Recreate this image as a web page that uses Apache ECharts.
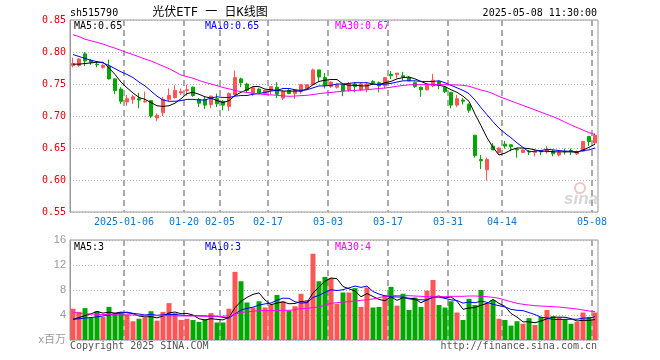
<!DOCTYPE html>
<html>
<head>
<meta charset="utf-8">
<script src="https://cdn.jsdelivr.net/npm/echarts@6/dist/echarts.min.js"></script>
<style>html,body{margin:0;padding:0;background:#fff}#c{width:660px;height:360px}</style>
</head>
<body>
<div id="c"></div>
<script>
const dates = ['2024-12-23','2024-12-24','2024-12-25','2024-12-26','2024-12-27','2024-12-30','2024-12-31',
'2025-01-02','2025-01-03','2025-01-06','2025-01-07','2025-01-08','2025-01-09','2025-01-10','2025-01-13','2025-01-14','2025-01-15','2025-01-16','2025-01-17','2025-01-20','2025-01-21','2025-01-22','2025-01-23','2025-01-24','2025-01-27',
'2025-02-05','2025-02-06','2025-02-07','2025-02-10','2025-02-11','2025-02-12','2025-02-13','2025-02-14','2025-02-17','2025-02-18','2025-02-19','2025-02-20','2025-02-21','2025-02-24','2025-02-25','2025-02-26','2025-02-27','2025-02-28',
'2025-03-03','2025-03-04','2025-03-05','2025-03-06','2025-03-07','2025-03-10','2025-03-11','2025-03-12','2025-03-13','2025-03-14','2025-03-17','2025-03-18','2025-03-19','2025-03-20','2025-03-21','2025-03-24','2025-03-25','2025-03-26','2025-03-27','2025-03-28','2025-03-31',
'2025-04-01','2025-04-02','2025-04-03','2025-04-07','2025-04-08','2025-04-09','2025-04-10','2025-04-11','2025-04-14','2025-04-15','2025-04-16','2025-04-17','2025-04-18','2025-04-21','2025-04-22','2025-04-23','2025-04-24','2025-04-25','2025-04-28','2025-04-29','2025-04-30',
'2025-05-06','2025-05-07','2025-05-08'];

const open = [0.779,0.779,0.797,0.787,0.781,0.776,0.778,0.758,0.742,0.722,
0.726,0.727,0.722,0.724,0.697,0.705,0.726,0.729,0.736,0.740,
0.745,0.726,0.726,0.718,0.727,0.723,0.715,0.733,0.758,0.750,
0.735,0.742,0.735,0.740,0.745,0.728,0.740,0.735,0.738,0.743,
0.749,0.772,0.760,0.746,0.745,0.749,0.740,0.750,0.741,0.742,
0.754,0.752,0.747,0.765,0.765,0.763,0.760,0.752,0.745,0.741,
0.747,0.754,0.745,0.737,0.717,0.725,0.718,0.670,0.632,0.616,
0.653,0.643,0.656,0.655,0.648,0.643,0.645,0.643,0.645,0.644,
0.645,0.639,0.645,0.646,0.641,0.645,0.668,0.658];

const close = [0.782,0.789,0.786,0.784,0.780,0.779,0.758,0.740,0.723,0.727,
0.730,0.725,0.723,0.700,0.701,0.726,0.732,0.740,0.738,0.741,
0.732,0.720,0.717,0.731,0.719,0.717,0.735,0.760,0.752,0.740,
0.744,0.736,0.740,0.746,0.734,0.738,0.735,0.741,0.749,0.749,
0.772,0.761,0.748,0.753,0.749,0.739,0.751,0.746,0.750,0.750,
0.752,0.747,0.760,0.763,0.767,0.761,0.755,0.746,0.741,0.748,
0.756,0.748,0.738,0.717,0.727,0.723,0.709,0.638,0.630,0.632,
0.647,0.650,0.653,0.652,0.647,0.647,0.644,0.645,0.644,0.647,
0.641,0.643,0.644,0.645,0.644,0.660,0.660,0.670];

const high = [0.791,0.790,0.800,0.789,0.786,0.781,0.788,0.759,0.745,0.733,
0.733,0.736,0.738,0.725,0.704,0.730,0.743,0.748,0.743,0.749,
0.746,0.728,0.730,0.732,0.735,0.725,0.737,0.771,0.760,0.752,
0.745,0.744,0.741,0.746,0.753,0.740,0.742,0.742,0.750,0.750,
0.774,0.772,0.767,0.754,0.751,0.749,0.753,0.753,0.752,0.752,
0.756,0.754,0.761,0.770,0.767,0.769,0.762,0.754,0.746,0.749,
0.766,0.755,0.747,0.737,0.733,0.728,0.720,0.670,0.639,0.635,
0.658,0.651,0.661,0.656,0.650,0.648,0.647,0.647,0.647,0.653,
0.648,0.645,0.649,0.649,0.646,0.660,0.669,0.673];

const low = [0.776,0.777,0.778,0.780,0.776,0.774,0.757,0.734,0.719,0.716,
0.719,0.712,0.721,0.697,0.692,0.700,0.723,0.727,0.733,0.732,
0.730,0.714,0.711,0.712,0.714,0.709,0.708,0.732,0.745,0.736,
0.731,0.734,0.733,0.734,0.728,0.725,0.734,0.727,0.735,0.741,
0.748,0.754,0.743,0.744,0.743,0.731,0.738,0.737,0.739,0.737,
0.749,0.737,0.743,0.758,0.759,0.756,0.755,0.744,0.730,0.740,
0.745,0.742,0.736,0.712,0.714,0.718,0.705,0.635,0.617,0.599,
0.647,0.641,0.649,0.645,0.635,0.642,0.639,0.637,0.639,0.641,
0.637,0.637,0.640,0.639,0.639,0.644,0.653,0.656];

const volume = [5.0,4.5,5.1,3.6,4.6,3.7,5.3,4.3,4.4,4.1,
3.0,3.4,3.6,4.6,3.1,4.5,5.9,4.3,3.2,3.4,
3.2,2.9,3.3,4.3,2.8,2.8,5.0,10.9,9.4,6.0,
5.2,6.2,5.2,5.7,7.2,6.2,4.7,5.4,7.4,6.4,
13.8,9.4,10.1,9.9,5.8,7.6,7.6,8.3,5.3,8.4,
5.2,5.3,7.2,8.5,5.5,7.4,4.8,6.8,5.3,7.9,
9.6,5.6,5.2,6.2,4.4,3.2,6.6,5.6,8.0,5.9,
6.4,3.4,3.2,2.3,3.0,2.6,3.5,2.4,3.7,4.8,
3.8,3.6,3.3,2.6,2.9,4.4,3.7,4.4];

const ma5 = [0.781,0.781,0.782,0.783,0.784,0.784,0.775,0.765,0.753,0.744,
0.736,0.729,0.726,0.721,0.716,0.715,0.716,0.720,0.727,0.735,
0.737,0.734,0.730,0.728,0.724,0.721,0.724,0.732,0.737,0.741,
0.746,0.746,0.742,0.741,0.740,0.739,0.739,0.739,0.739,0.742,
0.749,0.754,0.756,0.757,0.757,0.750,0.748,0.748,0.747,0.747,
0.750,0.749,0.752,0.754,0.758,0.760,0.761,0.758,0.754,0.750,
0.749,0.748,0.746,0.741,0.737,0.731,0.723,0.703,0.685,0.666,
0.651,0.639,0.642,0.647,0.650,0.650,0.649,0.647,0.645,0.645,
0.644,0.644,0.644,0.644,0.643,0.647,0.651,0.656];

const ma10 = [0.796,0.793,0.790,0.787,0.785,0.783,0.779,0.774,0.769,0.765,
0.760,0.753,0.747,0.739,0.731,0.725,0.723,0.723,0.724,0.726,
0.726,0.725,0.725,0.728,0.730,0.729,0.729,0.731,0.732,0.732,
0.734,0.735,0.737,0.739,0.740,0.743,0.743,0.741,0.740,0.741,
0.744,0.747,0.747,0.748,0.750,0.750,0.751,0.752,0.752,0.752,
0.750,0.749,0.750,0.751,0.753,0.755,0.755,0.755,0.754,0.754,
0.754,0.755,0.752,0.748,0.744,0.740,0.735,0.725,0.713,0.702,
0.691,0.681,0.673,0.666,0.658,0.651,0.644,0.645,0.646,0.648,
0.647,0.646,0.645,0.645,0.644,0.646,0.647,0.650];

const ma30 = [0.827,0.824,0.820,0.8175,0.815,0.8125,0.809,0.806,0.8025,0.799,
0.796,0.7925,0.789,0.786,0.782,0.778,0.774,0.769,0.764,0.7615,
0.759,0.7555,0.7525,0.750,0.7475,0.7445,0.7425,0.740,0.738,0.737,
0.7355,0.7345,0.7335,0.733,0.7323,0.7315,0.7307,0.7312,0.7318,0.7323,
0.7335,0.735,0.736,0.7368,0.7378,0.7388,0.7395,0.740,0.7405,0.741,
0.742,0.743,0.7437,0.745,0.7465,0.7477,0.7487,0.749,0.749,0.749,
0.749,0.749,0.749,0.7488,0.7485,0.748,0.7465,0.7435,0.7405,0.7385,
0.735,0.7305,0.727,0.7235,0.720,0.7165,0.713,0.7095,0.706,0.7025,
0.699,0.695,0.6905,0.686,0.682,0.678,0.674,0.671];

const vma5 = [3.3,3.6,3.9,4.2,4.56,4.30,4.46,4.30,4.46,4.36,
4.22,3.84,3.70,3.74,3.54,3.84,4.34,4.48,4.20,4.26,
4.00,3.40,3.20,3.42,3.30,3.22,3.64,5.16,6.18,6.82,
7.30,7.54,6.40,5.66,5.90,6.10,5.80,5.84,6.18,6.02,
7.54,8.48,9.42,9.92,9.80,8.56,8.20,7.84,6.92,7.44,
6.96,6.50,6.28,6.92,6.34,6.78,6.68,6.60,5.96,6.44,
6.88,7.04,6.72,6.90,6.20,4.92,5.12,5.20,5.56,5.86,
6.50,5.86,5.38,4.24,3.66,2.90,2.92,2.76,3.04,3.40,
3.64,3.66,3.64,3.42,3.04,3.16,3.14,3.28];

const vma10 = [3.3,3.4,3.5,3.6,3.7,3.85,4.0,4.2,4.35,4.46,
4.26,4.15,4.00,4.10,3.95,4.03,4.09,4.09,3.97,3.90,
3.92,3.87,3.84,3.81,3.78,3.61,3.52,4.18,4.80,5.06,
5.26,5.59,5.78,5.92,6.36,6.70,6.67,6.12,5.92,5.96,
6.82,7.14,7.63,8.05,7.91,8.05,8.34,8.63,8.42,8.62,
7.76,7.35,7.06,6.92,6.89,6.87,6.59,6.44,6.44,6.39,
6.83,6.86,6.66,6.43,6.32,5.90,6.08,5.96,6.23,6.03,
5.71,5.49,5.29,4.90,4.76,4.70,4.39,4.07,3.64,3.53,
3.27,3.29,3.30,3.33,3.32,3.50,3.52,3.72];

const vma30 = [4.43,4.3,4.2,4.15,4.1,4.1,4.05,4.05,4.0,4.0,
4.0,3.95,3.95,3.9,3.9,3.9,3.9,3.85,3.85,3.85,
3.85,3.85,3.8,3.8,3.8,3.8,3.9,4.1,4.4,4.5,
4.6,4.7,4.7,4.7,4.7,4.75,4.75,4.85,5.05,5.05,
5.2,5.25,5.6,5.87,5.97,6.08,6.13,6.24,6.35,6.45,
6.56,6.77,6.99,7.09,7.09,7.09,7.09,7.04,6.99,6.93,
6.93,6.93,6.93,6.99,6.99,6.99,7.04,7.04,6.99,6.93,
6.83,6.67,6.4,6.13,5.87,5.71,5.6,5.49,5.44,5.39,
5.33,5.28,5.17,5.07,4.96,4.8,4.64,4.53];

const markDates = ['2025-01-06','2025-01-20','2025-02-05','2025-02-17','2025-03-03','2025-03-17','2025-03-31','2025-04-14','2025-05-08'];
const markLabels = ['2025-01-06','01-20','02-05','02-17','03-03','03-17','03-31','04-14','05-08'];
const priceLegend = ['MA5:0.65','MA10:0.65','MA30:0.67'];
const volLegend = ['MA5:3','MA10:3','MA30:4'];

const UP = '#ff5555', DOWN = '#00a800';
const MONO = '"DejaVu Sans Mono", monospace';
const GRIDV = '#aaaaaa';
const markSet = new Set(markDates);
const isMark = (i, v) => markSet.has(v);

const chart = echarts.init(document.getElementById('c'), null, {renderer: 'canvas'});

const splitH = {show: true, lineStyle: {color: '#b0b0b0', width: 1, type: [1, 2]}};

const lineS = (name, data, color, xi, yi) => ({
  name, type: 'line', data, xAxisIndex: xi, yAxisIndex: yi, symbol: 'none', showSymbol: false,
  lineStyle: {color, width: 1}, itemStyle: {color}, z: 5
});

// dashed date separators (short solid segments) at the left edge of each marked date's band
const dateLines = (xi, yi, yv) => ({
  type: 'custom', xAxisIndex: xi, yAxisIndex: yi, z: 2,
  data: markDates.map(d => [d, yv]),
  encode: {x: 0, y: 1},
  renderItem: function (params, api) {
    const pt = api.coord([api.value(0), api.value(1)]);
    const bw = api.size([1, 0])[0];
    const x = Math.round(pt[0] - bw / 2);
    const cs = params.coordSys;
    const kids = [];
    for (let y = cs.y; y < cs.y + cs.height; y += 10) {
      kids.push({type: 'line', shape: {x1: x, y1: y, x2: x, y2: Math.min(y + 6, cs.y + cs.height)},
        style: {stroke: GRIDV, lineWidth: 2}});
    }
    return {type: 'group', children: kids};
  }
});

const legendText = (arr, y) => [
  {type: 'text', x: 74, y, style: {text: arr[0], fill: '#000', font: '10px ' + MONO, textVerticalAlign: 'middle', verticalAlign: 'middle'}},
  {type: 'text', x: 205, y, style: {text: arr[1], fill: '#0000ff', font: '10px ' + MONO, textVerticalAlign: 'middle', verticalAlign: 'middle'}},
  {type: 'text', x: 335, y, style: {text: arr[2], fill: '#ff00ff', font: '10px ' + MONO, textVerticalAlign: 'middle', verticalAlign: 'middle'}}
];

chart.setOption({
  animation: false,
  backgroundColor: '#fff',
  grid: [
    {left: 70, top: 20, width: 528, height: 192, show: true, borderColor: '#999', borderWidth: 1},
    {left: 70, top: 240, width: 528, height: 100, show: true, borderColor: '#999', borderWidth: 1}
  ],
  xAxis: [
    {type: 'category', gridIndex: 0, data: dates, boundaryGap: true,
     axisLine: {show: false}, axisTick: {show: false},
     axisLabel: {interval: isMark, formatter: v => markLabels[markDates.indexOf(v)] || '',
       color: '#0a78d2', fontFamily: MONO, fontSize: 10, margin: 5, padding: [0, 6, 0, 0]},
     splitLine: {show: false}},
    {type: 'category', gridIndex: 1, data: dates, boundaryGap: true,
     axisLine: {show: false}, axisTick: {show: false}, axisLabel: {show: false},
     splitLine: {show: false}}
  ],
  yAxis: [
    {type: 'value', gridIndex: 0, min: 0.55, max: 0.85, interval: 0.05,
     axisLine: {show: true, lineStyle: {color: '#999'}}, axisTick: {show: false},
     axisLabel: {color: '#e60000', fontFamily: MONO, fontSize: 10, margin: 4, formatter: v => v.toFixed(2)},
     splitLine: splitH},
    {type: 'value', gridIndex: 1, min: 0, max: 16, interval: 4,
     axisLine: {show: true, lineStyle: {color: '#999'}}, axisTick: {show: false},
     axisLabel: {color: '#999', fontFamily: '"Liberation Sans", Arial, "Noto Sans CJK SC"', fontSize: 11, margin: 4,
       formatter: v => v === 0 ? 'x百万' : String(v)},
     splitLine: splitH}
  ],
  series: [
    dateLines(0, 0, 0.7),
    dateLines(1, 1, 8),
    {type: 'candlestick', xAxisIndex: 0, yAxisIndex: 0, barWidth: 4,
     data: dates.map((d, i) => [open[i], close[i], low[i], high[i]]),
     itemStyle: {color: UP, color0: DOWN, borderColor: UP, borderColor0: DOWN, borderWidth: 1}, z: 3},
    lineS('MA5', ma5, '#000000', 0, 0),
    lineS('MA10', ma10, '#0000ff', 0, 0),
    lineS('MA30', ma30, '#ff00ff', 0, 0),
    {type: 'bar', xAxisIndex: 1, yAxisIndex: 1, barWidth: 5,
     data: volume.map((v, i) => ({value: v, itemStyle: {color: close[i] >= open[i] ? UP : DOWN}})), z: 3},
    lineS('VMA5', vma5, '#000000', 1, 1),
    lineS('VMA10', vma10, '#0000ff', 1, 1),
    lineS('VMA30', vma30, '#ff00ff', 1, 1)
  ],
  graphic: [
    {type: 'text', x: 70, y: 13, style: {text: 'sh515790', fill: '#000', font: '10px ' + MONO, textVerticalAlign: 'middle', verticalAlign: 'middle'}},
    {type: 'text', x: 210, y: 13, style: {text: '光伏ETF 一 日K线图', fill: '#000', font: '12px "DejaVu Sans Mono", "Noto Sans CJK SC"', textAlign: 'center', align: 'center', textVerticalAlign: 'middle', verticalAlign: 'middle'}},
    {type: 'text', x: 597, y: 13, style: {text: '2025-05-08 11:30:00', fill: '#000', font: '10px ' + MONO, textAlign: 'right', align: 'right', textVerticalAlign: 'middle', verticalAlign: 'middle'}},
    ...legendText(priceLegend, 26),
    ...legendText(volLegend, 247),
    {type: 'text', x: 70, y: 346, style: {text: 'Copyright 2025 SINA.COM', fill: '#555', font: '10px ' + MONO, textVerticalAlign: 'middle', verticalAlign: 'middle'}},
    {type: 'text', x: 597, y: 346, style: {text: 'http://finance.sina.com.cn', fill: '#555', font: '10px ' + MONO, textAlign: 'right', align: 'right', textVerticalAlign: 'middle', verticalAlign: 'middle'}},
    {type: 'circle', shape: {cx: 580, cy: 188, r: 5}, style: {fill: 'none', stroke: '#f2c4c4', lineWidth: 2}, z: 1},
    {type: 'text', x: 581, y: 199, z: 1, style: {text: 'sina', fill: '#d6d6d6', font: 'italic bold 17px "Liberation Sans", Arial', textAlign: 'center', align: 'center', textVerticalAlign: 'middle', verticalAlign: 'middle'}}
  ]
});
</script>
</body>
</html>
